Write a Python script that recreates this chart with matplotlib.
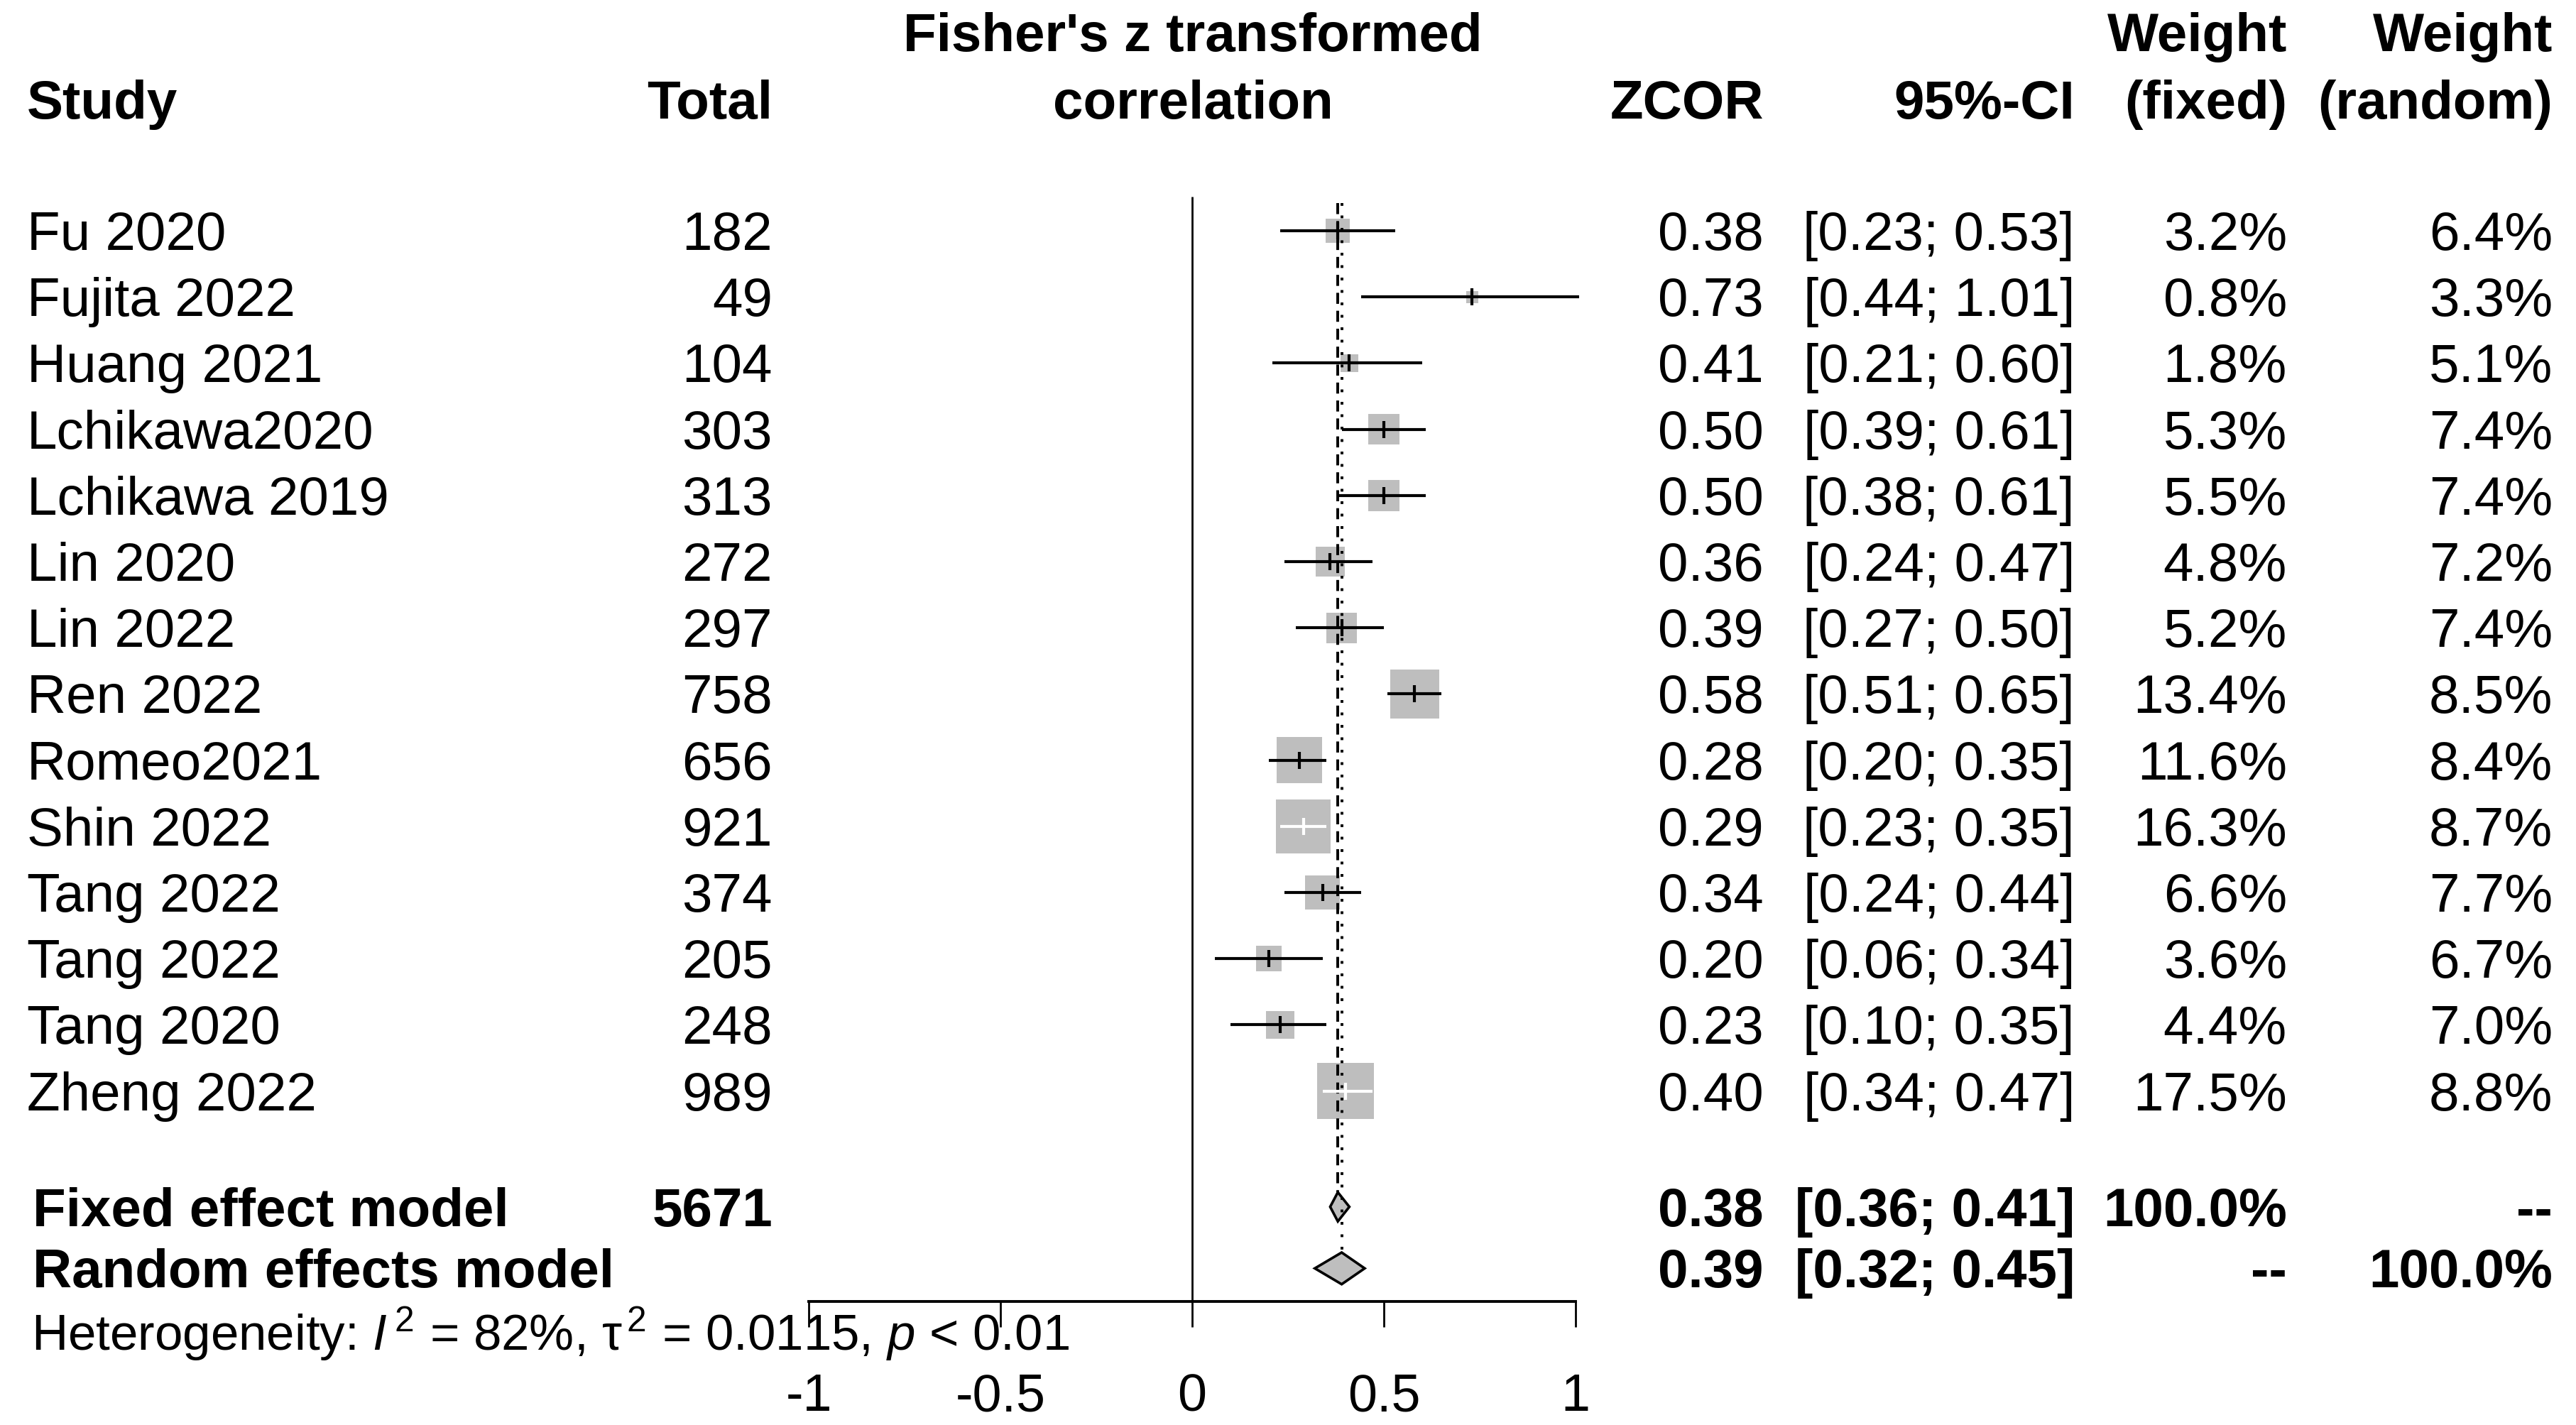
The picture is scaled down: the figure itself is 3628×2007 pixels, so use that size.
import matplotlib
matplotlib.use('Agg')
import matplotlib.pyplot as plt
from matplotlib.patches import Rectangle, Polygon
from matplotlib.transforms import blended_transform_factory
import numpy as np

plt.rcParams['font.family'] = ['Liberation Sans', 'DejaVu Sans']
plt.rcParams['mathtext.fontset'] = 'custom'
plt.rcParams['mathtext.rm'] = 'Liberation Sans'
plt.rcParams['mathtext.it'] = 'Liberation Sans:italic'
plt.rcParams['mathtext.bf'] = 'Liberation Sans:bold'

# study data
studies = ['Fu 2020', 'Fujita 2022', 'Huang 2021', 'Lchikawa2020', 'Lchikawa 2019',
           'Lin 2020', 'Lin 2022', 'Ren 2022', 'Romeo2021', 'Shin 2022',
           'Tang 2022', 'Tang 2022', 'Tang 2020', 'Zheng 2022']
totals = [182, 49, 104, 303, 313, 272, 297, 758, 656, 921, 374, 205, 248, 989]
zcor = [0.38, 0.73, 0.41, 0.50, 0.50, 0.36, 0.39, 0.58, 0.28, 0.29, 0.34, 0.20, 0.23, 0.40]
lower = [0.23, 0.44, 0.21, 0.39, 0.38, 0.24, 0.27, 0.51, 0.20, 0.23, 0.24, 0.06, 0.10, 0.34]
upper = [0.53, 1.01, 0.60, 0.61, 0.61, 0.47, 0.50, 0.65, 0.35, 0.35, 0.44, 0.34, 0.35, 0.47]
w_fixed = [3.2, 0.8, 1.8, 5.3, 5.5, 4.8, 5.2, 13.4, 11.6, 16.3, 6.6, 3.6, 4.4, 17.5]
w_random = [6.4, 3.3, 5.1, 7.4, 7.4, 7.2, 7.4, 8.5, 8.4, 8.7, 7.7, 6.7, 7.0, 8.8]

total_all = 5671
fixed_est, fixed_lo, fixed_hi = 0.38, 0.36, 0.41
random_est, random_lo, random_hi = 0.39, 0.32, 0.45
het_text = r'Heterogeneity: $I^{\,2}$ = 82%, $\mathrm{\tau}^{\,2}$ = 0.0115, $p$ < 0.01'

W, H = 3628, 2007
fig = plt.figure(figsize=(W / 100, H / 100), dpi=100)

# panel: x from -1..1 maps to px 1139..2219, bottom at axis line (px 1833)
row_px = 93.2
row0_px = 325
axis_px = 1833
y_bottom = (axis_px - row0_px) / row_px
y_top = -row0_px / row_px
ax = fig.add_axes([1139 / W, (H - axis_px) / H, 1080 / W, axis_px / H])
ax.set_xlim(-1, 1)
ax.set_ylim(y_bottom, y_top)
ax.patch.set_alpha(0)
for s in ['top', 'left', 'right']:
    ax.spines[s].set_visible(False)
ax.spines['bottom'].set_linewidth(2.8)
ax.set_yticks([])
ax.set_xticks([-1, -0.5, 0, 0.5, 1])
ax.set_xticklabels(['-1', '-0.5', '0', '0.5', '1'])
ax.tick_params(axis='x', direction='out', length=26, width=2.0, pad=46, labelsize=53)

fixed_row = 14.75
random_row = 15.68

# reference line at 0 and summary lines
ax.vlines(0, -0.515, y_bottom, color='black', lw=2.0, clip_on=False)
ax.vlines(fixed_est, -0.42, fixed_row - 0.22, color='black', lw=2.8,
          linestyles=(0, (4, 2.5)), clip_on=False)
ax.vlines(random_est, -0.42, random_row - 0.24, color='black', lw=2.8,
          linestyles=(0, (1, 3.5)), clip_on=False)

# study squares and CIs
px_x = 540.0
for i in range(len(studies)):
    side = 18.9 * np.sqrt(w_fixed[i])
    wdt = side / px_x
    hgt = side / row_px
    ax.add_patch(Rectangle((zcor[i] - wdt / 2, i - hgt / 2), wdt, hgt,
                           facecolor='#bebebe', edgecolor='none', clip_on=False))
    col = 'white' if (upper[i] - lower[i]) * px_x < side else 'black'
    ax.hlines(i, lower[i], upper[i], color=col, lw=3.0, clip_on=False)
    ax.plot(zcor[i], i, marker='|', ms=17, mew=3.0, color=col, clip_on=False)

# diamonds
for est, lo, hi, r, h in [(fixed_est, fixed_lo, fixed_hi, fixed_row, 0.22),
                          (random_est, random_lo, random_hi, random_row, 0.24)]:
    ax.add_patch(Polygon([(lo, r), (est, r - h), (hi, r), (est, r + h)], closed=True,
                         facecolor='#bebebe', edgecolor='black', lw=2.6, clip_on=False))

# text columns
tr = blended_transform_factory(fig.transFigure, ax.transData)
fs = 55
base = 0.29
x_study, x_total, x_zcor, x_ci, x_wf, x_wr = 38, 1088, 2484, 2922, 3221, 3595


def put(px, row, s, ha='right', bold=False, size=fs):
    ax.text(px / W, row + base, s, transform=tr, ha=ha, va='baseline', fontsize=size,
            fontweight='bold' if bold else 'normal', clip_on=False)


# headers
h1 = (72 - row0_px) / row_px - base
h2 = (167 - row0_px) / row_px - base
put(x_study, h2, 'Study', ha='left', bold=True)
put(x_total, h2, 'Total', bold=True)
put(1680, h1, "Fisher's z transformed", ha='center', bold=True)
put(1680, h2, 'correlation', ha='center', bold=True)
put(x_zcor, h2, 'ZCOR', bold=True)
put(x_ci, h2, '95%-CI', bold=True)
put(x_wf, h1, 'Weight', bold=True)
put(x_wf, h2, '(fixed)', bold=True)
put(x_wr, h1, 'Weight', bold=True)
put(x_wr, h2, '(random)', bold=True)

for i in range(len(studies)):
    put(x_study, i, studies[i], ha='left')
    put(x_total, i, str(totals[i]))
    put(x_zcor, i, f'{zcor[i]:.2f}')
    put(x_ci, i, f'[{lower[i]:.2f}; {upper[i]:.2f}]')
    put(x_wf, i, f'{w_fixed[i]:.1f}%')
    put(x_wr, i, f'{w_random[i]:.1f}%')

put(x_study + 8, fixed_row, 'Fixed effect model', ha='left', bold=True)
put(x_total, fixed_row, str(total_all), bold=True)
put(x_zcor, fixed_row, f'{fixed_est:.2f}', bold=True)
put(x_ci, fixed_row, f'[{fixed_lo:.2f}; {fixed_hi:.2f}]', bold=True)
put(x_wf, fixed_row, '100.0%', bold=True)
put(x_wr, fixed_row, '--', bold=True)

put(x_study + 8, random_row, 'Random effects model', ha='left', bold=True)
put(x_zcor, random_row, f'{random_est:.2f}', bold=True)
put(x_ci, random_row, f'[{random_lo:.2f}; {random_hi:.2f}]', bold=True)
put(x_wf, random_row, '--', bold=True)
put(x_wr, random_row, '100.0%', bold=True)

het_row = (1902 - row0_px) / row_px - base
put(44, het_row, het_text, ha='left', size=51)

fig.savefig('out.png', dpi=100)
